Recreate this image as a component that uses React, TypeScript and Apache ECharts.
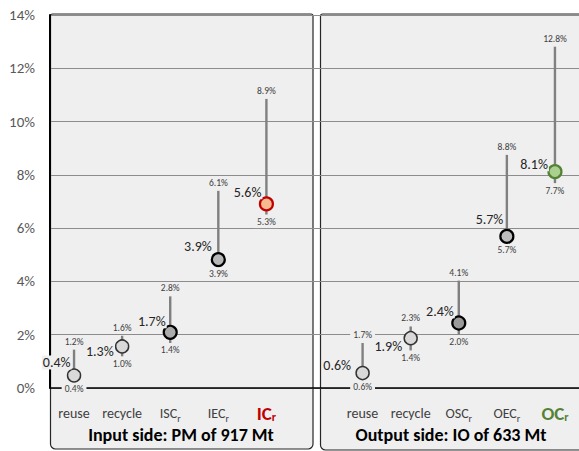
import React, { useEffect, useRef } from "react";
import * as echarts from "echarts";

// ---- data ----
const categoryBase = ["reuse", "recycle", "ISC", "IEC", "IC", "", "reuse", "recycle", "OSC", "OEC", "OC"];
const categorySub = ["", "", "r", "r", "r", "", "", "", "r", "r", "r"];
const yTicks = [0, 2, 4, 6, 8, 10, 12, 14];

// points (category index) and plotted positions (% of mass)
const pointCategory = [0, 1, 2, 3, 4, 6, 7, 8, 9, 10];
const plotMean = [0.47, 1.56, 2.09, 4.82, 6.91, 0.56, 1.87, 2.44, 5.69, 8.12];
const plotMin = [0.47, 1.19, 1.69, 4.82, 6.51, 0.56, 1.41, 2.0, 5.69, 7.69];
const plotMax = [1.44, 1.96, 3.44, 7.4, 10.85, 1.69, 2.31, 4.03, 8.75, 12.81];
const meanLabels = ["0.4%", "1.3%", "1.7%", "3.9%", "5.6%", "0.6%", "1.9%", "2.4%", "5.7%", "8.1%"];
const minLabels = ["0.4%", "1.0%", "1.4%", "3.9%", "5.3%", "0.6%", "1.4%", "2.0%", "5.7%", "7.7%"];
const maxLabels = ["1.2%", "1.6%", "2.8%", "6.1%", "8.9%", "1.7%", "2.3%", "4.1%", "8.8%", "12.8%"];
const panelTitles = ["Input side: PM of 917 Mt", "Output side: IO of 633 Mt"];

// ---- styles ----
const FONT = "Carlito, Lato, sans-serif";
const PANEL_BG = "#efefef";
const dotFill = ["#d9d9d9", "#d9d9d9", "#ababab", "#b8b8b8", "#f7b98e", "#d9d9d9", "#d9d9d9", "#9a9a9a", "#bdbdbd", "#a9d08e"];
const dotStroke = ["#333333", "#333333", "#000000", "#000000", "#c00000", "#333333", "#333333", "#000000", "#000000", "#548235"];
const dotWidth = [1.5, 1.5, 2.2, 2.2, 2.2, 1.5, 1.5, 2.2, 2.2, 2.2];
const meanDx = [-2.5, -7.5, -3.5, -5.5, -4, -10.5, -7.5, -4, -2.5, -6];
const meanDy = [-13, 5, -11, -12.6, -11.7, -7.3, 8.4, -11.6, -17.4, -7.4];

export default function App() {
  const ref = useRef<HTMLDivElement>(null);

  useEffect(() => {
    if (!ref.current) return;
    const chart = echarts.init(ref.current, undefined, { renderer: "svg" });

    const categories = categoryBase.map((b, i) => b + categorySub[i]);
    const data = pointCategory.map((c, i) => [c, plotMean[i], plotMin[i], plotMax[i]]);

    const titleStyle = (text: string) => ({
      text,
      align: "center",
      verticalAlign: "middle",
      textAlign: "center",
      textVerticalAlign: "middle",
      fontSize: 18,
      fontWeight: "bold",
      fontFamily: FONT,
      fill: "#000000",
    });

    const option: any = {
      animation: false,
      backgroundColor: "#ffffff",
      textStyle: { fontFamily: FONT },
      grid: { left: 50, right: -3, top: 15, bottom: 63, containLabel: false },
      graphic: [
        {
          type: "rect",
          z: -10,
          shape: { x: 50.5, y: 14, width: 262.5, height: 435, r: [2, 2, 5, 5] },
          style: { fill: PANEL_BG, stroke: "#262626", lineWidth: 1.2 },
        },
        {
          type: "rect",
          z: -10,
          shape: { x: 320.5, y: 14, width: 275, height: 436, r: [2, 2, 5, 5] },
          style: { fill: PANEL_BG, stroke: "#262626", lineWidth: 1.2 },
        },
        { type: "text", z: 10, x: 181, y: 435, style: titleStyle(panelTitles[0]) },
        { type: "text", z: 10, x: 451, y: 435, style: titleStyle(panelTitles[1]) },
      ],
      xAxis: {
        type: "category",
        data: categories,
        boundaryGap: true,
        axisLine: { show: true, lineStyle: { color: "#000000", width: 1.6 } },
        axisTick: { show: false },
        splitLine: { show: false },
        axisLabel: {
          interval: 0,
          margin: 15,
          formatter: (_v: string, idx: number) => {
            const b = categoryBase[idx];
            const s = categorySub[idx];
            if (!b) return "";
            if (b === "IC") return `{ic|${b}}{ics|${s}}`;
            if (b === "OC") return `{oc|${b}}{ocs|${s}}`;
            return s ? `{n|${b}}{ns|${s}}` : `{n|${b}}`;
          },
          rich: {
            n: { fontSize: 14, color: "#404040", fontFamily: FONT, lineHeight: 20 },
            ns: { fontSize: 10, color: "#404040", fontFamily: FONT, lineHeight: 20, verticalAlign: "bottom" },
            ic: { fontSize: 19, fontWeight: "bold", color: "#c00000", fontFamily: FONT, lineHeight: 20 },
            ics: { fontSize: 12, fontWeight: "bold", color: "#c00000", fontFamily: FONT, lineHeight: 20, verticalAlign: "bottom" },
            oc: { fontSize: 19, fontWeight: "bold", color: "#548235", fontFamily: FONT, lineHeight: 20 },
            ocs: { fontSize: 12, fontWeight: "bold", color: "#548235", fontFamily: FONT, lineHeight: 20, verticalAlign: "bottom" },
          },
        },
      },
      yAxis: {
        type: "value",
        min: yTicks[0],
        max: yTicks[yTicks.length - 1],
        interval: 2,
        axisLine: { show: true, lineStyle: { color: "#000000", width: 2 } },
        axisTick: { show: false },
        axisLabel: {
          margin: 15,
          fontSize: 15,
          color: "#595959",
          fontFamily: FONT,
          formatter: (v: number) => `${v}%`,
        },
        splitLine: { show: true, lineStyle: { color: "#8c8c8c", width: 1.2 } },
      },
      series: [
        {
          type: "custom",
          z: 5,
          data,
          encode: { x: 0, y: [1, 2, 3] },
          renderItem: (params: any, api: any) => {
            const i = params.dataIndex;
            const x = api.value(0);
            const pMean = api.coord([x, api.value(1)]);
            const pLo = api.coord([x, api.value(2)]);
            const pHi = api.coord([x, api.value(3)]);
            const r = 6.5;
            const small = {
              fontSize: 9.5,
              fontFamily: FONT,
              fill: "#404040",
              align: "center",
              verticalAlign: "middle",
              backgroundColor: PANEL_BG,
              padding: [1, 3],
            };
            return {
              type: "group",
              children: [
                {
                  type: "line",
                  shape: { x1: pHi[0], y1: pHi[1], x2: pLo[0], y2: pLo[1] },
                  style: { stroke: "#808080", lineWidth: 2.4 },
                },
                {
                  type: "circle",
                  shape: { cx: pMean[0], cy: pMean[1], r },
                  style: { fill: dotFill[i], stroke: dotStroke[i], lineWidth: dotWidth[i] },
                },
                {
                  type: "text",
                  x: pHi[0],
                  y: pHi[1] - 8,
                  style: { ...small, text: maxLabels[i] },
                },
                {
                  type: "text",
                  x: pLo[0],
                  y: Math.max(pLo[1], pMean[1] + r) + 7.5,
                  style: { ...small, text: minLabels[i] },
                },
                {
                  type: "text",
                  x: pMean[0] + meanDx[i],
                  y: pMean[1] + meanDy[i],
                  style: {
                    text: meanLabels[i],
                    fontSize: 14,
                    fontFamily: FONT,
                    fill: "#262626",
                    align: "right",
                    verticalAlign: "middle",
                    backgroundColor: PANEL_BG,
                    padding: [0, 1],
                  },
                },
              ],
            };
          },
        },
      ],
    };

    chart.setOption(option);
    return () => chart.dispose();
  }, []);

  return (
    <div
      ref={ref}
      style={{ position: "fixed", left: 0, top: 0, width: 579, height: 451 }}
    />
  );
}
